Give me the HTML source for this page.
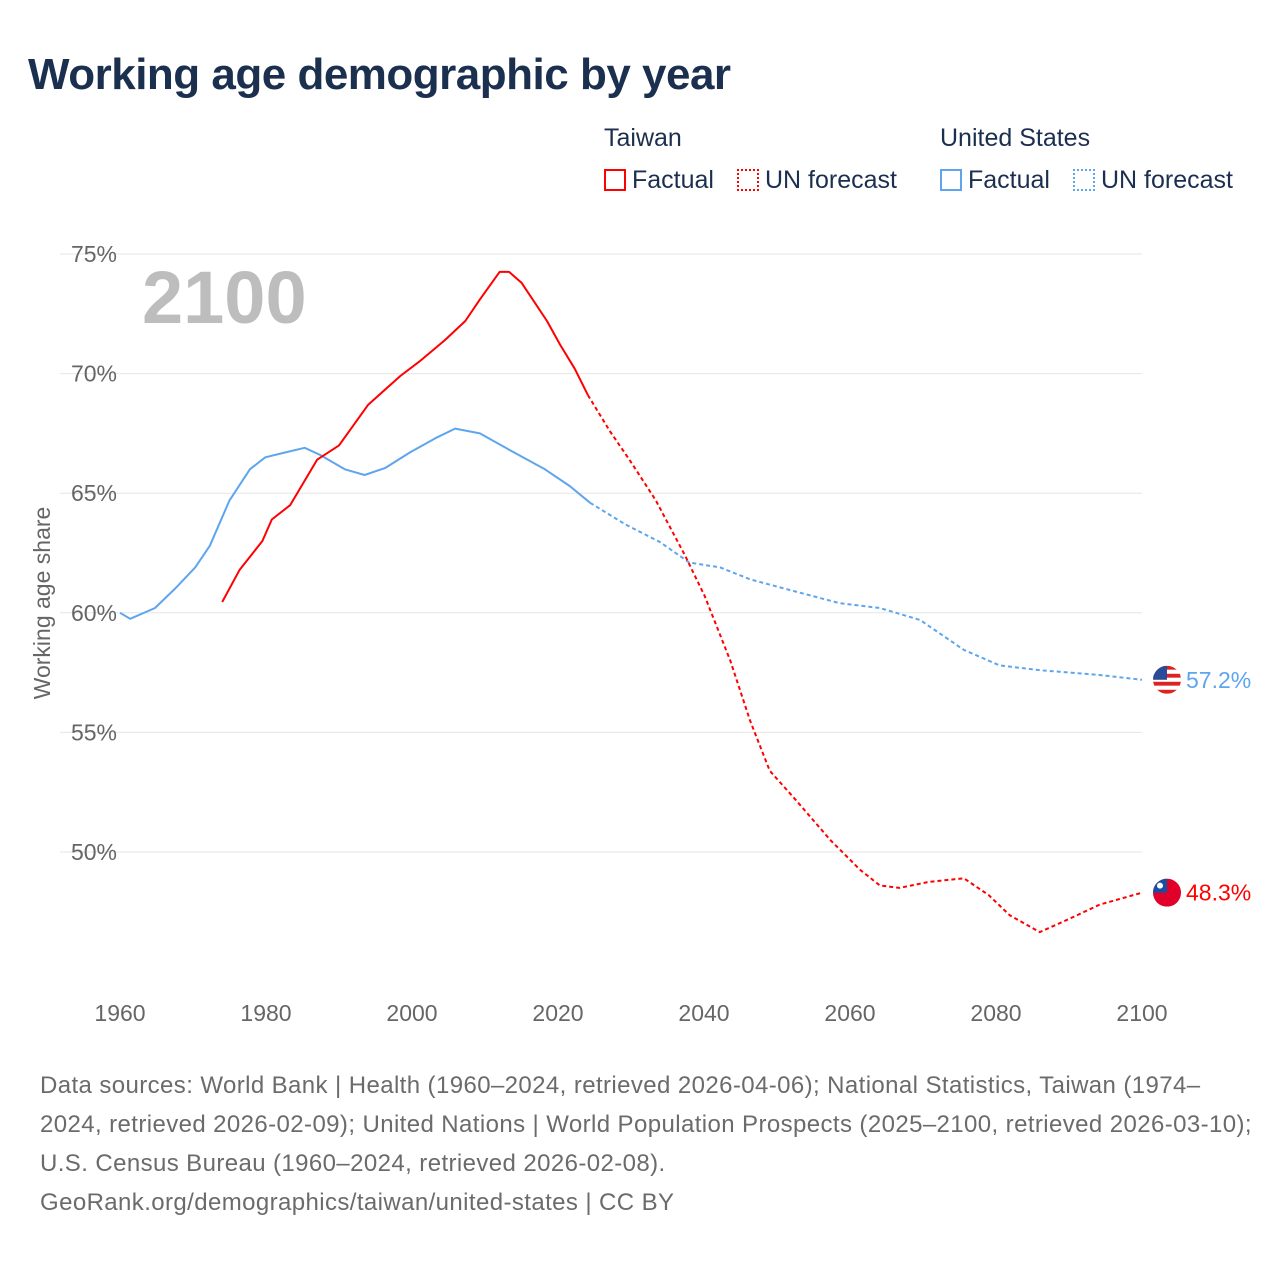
<!DOCTYPE html>
<html><head><meta charset="utf-8">
<style>
body{margin:0;background:#fff;font-family:"Liberation Sans",sans-serif;}
#wrap{position:relative;width:1280px;height:1280px;overflow:hidden}
h1{position:absolute;left:28px;top:50px;margin:0;font-size:44px;font-weight:bold;color:#1b2f4f;letter-spacing:-0.5px}
.lg{position:absolute;font-size:25px;color:#1b2f4f}
.sw{display:inline-block;width:22px;height:22px;vertical-align:-3px;margin-right:6px;box-sizing:border-box}
#src{position:absolute;left:40px;top:1066px;width:1215px;font-size:24px;line-height:39px;color:#6b6b6b;letter-spacing:0.4px}
</style></head><body>
<div id="wrap">
<h1>Working age demographic by year</h1>
<div class="lg" style="left:604px;top:124px">Taiwan</div>
<div class="lg" style="left:604px;top:166px"><span class="sw" style="border:2px solid #f00"></span>Factual</div>
<div class="lg" style="left:737px;top:166px"><span class="sw" style="border:2px dotted #f00"></span>UN forecast</div>
<div class="lg" style="left:940px;top:124px">United States</div>
<div class="lg" style="left:940px;top:166px"><span class="sw" style="border:2px solid #5ea5ee"></span>Factual</div>
<div class="lg" style="left:1073px;top:166px"><span class="sw" style="border:2px dotted #5ea5ee"></span>UN forecast</div>
<svg id="chart" width="1280" height="1060" style="position:absolute;left:0;top:0"></svg>
<div id="src">Data sources: World Bank | Health (1960–2024, retrieved 2026-04-06); National Statistics, Taiwan (1974–2024, retrieved 2026-02-09); United Nations | World Population Prospects (2025–2100, retrieved 2026-03-10); U.S. Census Bureau (1960–2024, retrieved 2026-02-08).<br>GeoRank.org/demographics/taiwan/united-states | CC BY</div>
</div>
<script>
const yTicks=[50,55,60,65,70,75];
const xTicks=[1960,1980,2000,2020,2040,2060,2080,2100];
const twYears=[1974,1976.4,1979.5,1980.8,1983.3,1987,1990,1994,1998.4,2001,2004.5,2007.3,2009.3,2012,2013.3,2015,2018.5,2020.3,2022.3,2024.1];
const twVals=[60.45,61.8,63.0,63.9,64.5,66.4,67.0,68.7,69.9,70.5,71.4,72.2,73.1,74.25,74.25,73.8,72.2,71.2,70.2,69.1];
const twFYears=[2024.1,2027.1,2030,2033.4,2037.4,2040.1,2043.6,2046.3,2049,2052.5,2057.3,2061.4,2064.1,2066.8,2070.8,2075.6,2079,2081.9,2086,2090,2094.2,2100];
const twFVals=[69.1,67.6,66.3,64.7,62.4,60.7,58.0,55.5,53.4,52.2,50.5,49.25,48.6,48.5,48.75,48.9,48.2,47.35,46.65,47.2,47.8,48.3];
const usYears=[1960,1961.4,1964.8,1967.5,1970.3,1972.3,1975,1977.8,1979.9,1982.6,1985.3,1987.4,1990.8,1993.5,1996.3,1999.7,2003.2,2005.9,2009.3,2013.4,2018.2,2021.6,2024.4];
const usVals=[60.0,59.75,60.2,61.0,61.9,62.8,64.7,66.0,66.5,66.7,66.9,66.6,66.0,65.76,66.05,66.7,67.3,67.7,67.5,66.8,66.0,65.3,64.6];
const usFYears=[2024.4,2029.2,2034,2038,2042.2,2046.3,2051.8,2058.6,2064.1,2069.6,2075.6,2080.5,2086,2094.2,2100];
const usFVals=[64.6,63.7,62.95,62.1,61.9,61.4,60.95,60.4,60.2,59.7,58.45,57.8,57.6,57.4,57.2];
const endLabels=["57.2%","48.3%"];

const X=y=>120+(y-1960)*1022/140;
const Y=v=>254+(75-v)*598/25;
const svg=document.getElementById('chart');
const NS='http://www.w3.org/2000/svg';
function mk(t,a,txt){const e=document.createElementNS(NS,t);for(const k in a)e.setAttribute(k,a[k]);if(txt!==undefined)e.textContent=txt;svg.appendChild(e);return e;}
yTicks.forEach(v=>{
 const l=mk('line',{x1:60,x2:1142,y1:Y(v),y2:Y(v),stroke:'#e6e6e6','stroke-width':1});
 
 
 const t=mk('text',{x:117,y:Y(v)+8,'text-anchor':'end','font-size':23,fill:'#666','font-family':'Liberation Sans'},v+'%');
 
 
});
xTicks.forEach(y=>{
 const t=mk('text',{x:X(y),y:1021,'text-anchor':'middle','font-size':23,fill:'#666','font-family':'Liberation Sans'},y);
 
 
});
const yt=mk('text',{x:0,y:0,transform:'translate(50,603) rotate(-90)','text-anchor':'middle','font-size':23,fill:'#666','font-family':'Liberation Sans'},'Working age share');


const yr=mk('text',{x:142,y:323,'font-size':74,'font-weight':'bold',fill:'#bdbdbd','font-family':'Liberation Sans'},'2100');


function line(xs,vs,col,dash,name){
 const d=xs.map((x,i)=>(i?'L':'M')+X(x).toFixed(1)+','+Y(vs[i]).toFixed(1)).join(' ');
 const a={d:d,fill:'none',stroke:col,'stroke-width':2,'stroke-linejoin':'round'};
 if(dash)a['stroke-dasharray']='4,3';
 const p=mk('path',a);
 
 
}
line(usYears,usVals,'#5ea5ee',false,'us-factual-line');
line(usFYears,usFVals,'#5ea5ee',true,'us-forecast-line');
line(twYears,twVals,'#f00',false,'taiwan-factual-line');
line(twFYears,twFVals,'#f00',true,'taiwan-forecast-line');
const uy=Y(usFVals[usFVals.length-1]), ty=Y(twFVals[twFVals.length-1]);
const defs=mk('defs',{});
const cp=document.createElementNS(NS,'clipPath');cp.setAttribute('id','c1');
const cc=document.createElementNS(NS,'circle');cc.setAttribute('cx',1167);cc.setAttribute('cy',uy);cc.setAttribute('r',14);cp.appendChild(cc);defs.appendChild(cp);
const cp2=document.createElementNS(NS,'clipPath');cp2.setAttribute('id','c2');
const cc2=document.createElementNS(NS,'circle');cc2.setAttribute('cx',1167);cc2.setAttribute('cy',ty);cc2.setAttribute('r',14);cp2.appendChild(cc2);defs.appendChild(cp2);
const gu=mk('g',{'clip-path':'url(#c1)'});


for(let i=0;i<7;i++){const r=document.createElementNS(NS,'rect');r.setAttribute('x',1153);r.setAttribute('y',uy-14+i*4);r.setAttribute('width',28);r.setAttribute('height',4);r.setAttribute('fill',i%2?'#fff':'#d22');gu.appendChild(r);}
const cn=document.createElementNS(NS,'rect');cn.setAttribute('x',1153);cn.setAttribute('y',uy-14);cn.setAttribute('width',14);cn.setAttribute('height',14);cn.setAttribute('fill','#2a4a9a');gu.appendChild(cn);
const gt=mk('g',{'clip-path':'url(#c2)'});


const r1=document.createElementNS(NS,'rect');r1.setAttribute('x',1153);r1.setAttribute('y',ty-14);r1.setAttribute('width',28);r1.setAttribute('height',28);r1.setAttribute('fill','#e0002a');gt.appendChild(r1);
const r2=document.createElementNS(NS,'rect');r2.setAttribute('x',1153);r2.setAttribute('y',ty-14);r2.setAttribute('width',14);r2.setAttribute('height',14);r2.setAttribute('fill','#1a4ea0');gt.appendChild(r2);
const s=document.createElementNS(NS,'circle');s.setAttribute('cx',1160);s.setAttribute('cy',ty-7);s.setAttribute('r',3);s.setAttribute('fill','#fff');gt.appendChild(s);
const l1=mk('text',{x:1186,y:uy+8,'font-size':23,fill:'#5ea5ee','font-family':'Liberation Sans'},endLabels[0]);


const l2=mk('text',{x:1186,y:ty+8,'font-size':23,fill:'#f00','font-family':'Liberation Sans'},endLabels[1]);


</script>
</body></html>
